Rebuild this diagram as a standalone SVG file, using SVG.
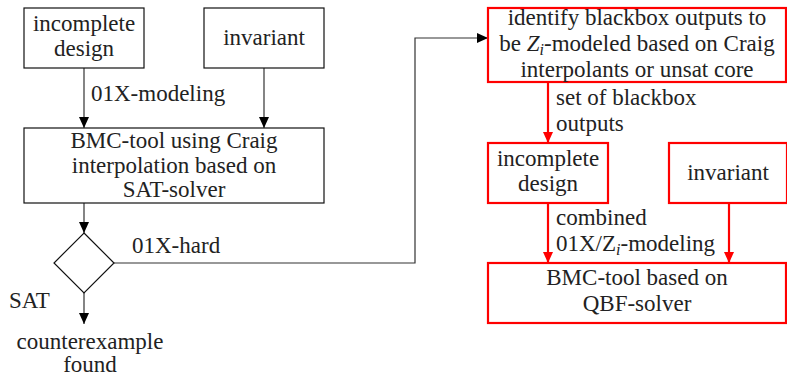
<svg xmlns="http://www.w3.org/2000/svg" width="787" height="377" viewBox="0 0 787 377">
<style>
text{font-family:"Liberation Serif","Times New Roman",serif;font-size:23px;fill:#222}
.c{text-anchor:middle}
.s{font-size:16px;font-style:italic}
.bk{fill:#fff;stroke:#111;stroke-width:1.2}
.rd{fill:#fff;stroke:#f00;stroke-width:2.2}
.lk{fill:none;stroke:#333;stroke-width:1.2}
.lr{fill:none;stroke:#f00;stroke-width:2.2}
</style>
<defs>
<marker id="ak" markerWidth="12" markerHeight="10" refX="11" refY="5" orient="auto" markerUnits="userSpaceOnUse"><path d="M0,0 L11,5 L0,10 z" fill="#000"/></marker>
<marker id="ar" markerWidth="12" markerHeight="10" refX="11" refY="5" orient="auto" markerUnits="userSpaceOnUse"><path d="M0,0 L11,5 L0,10 z" fill="#f00"/></marker>
</defs>
<g id="connectors">
<path class="lk" d="M84,68 V128" marker-end="url(#ak)"/>
<path class="lk" d="M264,68 V128" marker-end="url(#ak)"/>
<path class="lk" d="M84,203 V233" marker-end="url(#ak)"/>
<path class="lk" d="M84,293 V324" marker-end="url(#ak)"/>
<path class="lk" d="M114,263 H415 V38 H488" marker-end="url(#ak)"/>
<path class="lr" d="M548,82 V143" marker-end="url(#ar)"/>
<path class="lr" d="M548,203 V263" marker-end="url(#ar)"/>
<path class="lr" d="M729,203 V263" marker-end="url(#ar)"/>
<text x="91" y="101">01X-modeling</text>
<text x="132" y="253">01X-hard</text>
<text x="9" y="308">SAT</text>
<text x="556" y="105">set of blackbox</text>
<text x="556" y="131">outputs</text>
<text x="556" y="225">combined</text>
<text x="556" y="251">01X/Z<tspan class="s" dy="4">i</tspan><tspan dy="-4">-modeling</tspan></text>
</g>
<g id="n1"><rect class="bk" x="24" y="8" width="120" height="60"/><text class="c" x="84" y="31">incomplete</text><text class="c" x="84" y="56">design</text></g>
<g id="n2"><rect class="bk" x="204" y="8" width="120" height="60"/><text class="c" x="264" y="45">invariant</text></g>
<g id="n3"><rect class="bk" x="24" y="128" width="300" height="75"/><text class="c" x="174" y="148">BMC-tool using Craig</text><text class="c" x="174" y="173">interpolation based on</text><text class="c" x="174" y="197">SAT-solver</text></g>
<g id="n4"><path class="bk" d="M84,233 L114,263 L84,293 L54,263 z"/></g>
<g id="n5"><text class="c" x="90" y="349">counterexample</text><text class="c" x="90" y="372">found</text></g>
<g id="n6"><rect class="rd" x="488" y="8" width="298" height="74"/><text class="c" x="637" y="25">identify blackbox outputs to</text><text class="c" x="637" y="51">be <tspan font-style="italic">Z</tspan><tspan class="s" dy="4">i</tspan><tspan dy="-4">-modeled based on Craig</tspan></text><text class="c" x="637" y="77">interpolants or unsat core</text></g>
<g id="n7"><rect class="rd" x="488" y="143" width="120" height="60"/><text class="c" x="548" y="166">incomplete</text><text class="c" x="548" y="191">design</text></g>
<g id="n8"><rect class="rd" x="669" y="143" width="118" height="60"/><text class="c" x="728" y="180">invariant</text></g>
<g id="n9"><rect class="rd" x="488" y="263" width="298" height="60"/><text class="c" x="637" y="285">BMC-tool based on</text><text class="c" x="637" y="311">QBF-solver</text></g>
</svg>
